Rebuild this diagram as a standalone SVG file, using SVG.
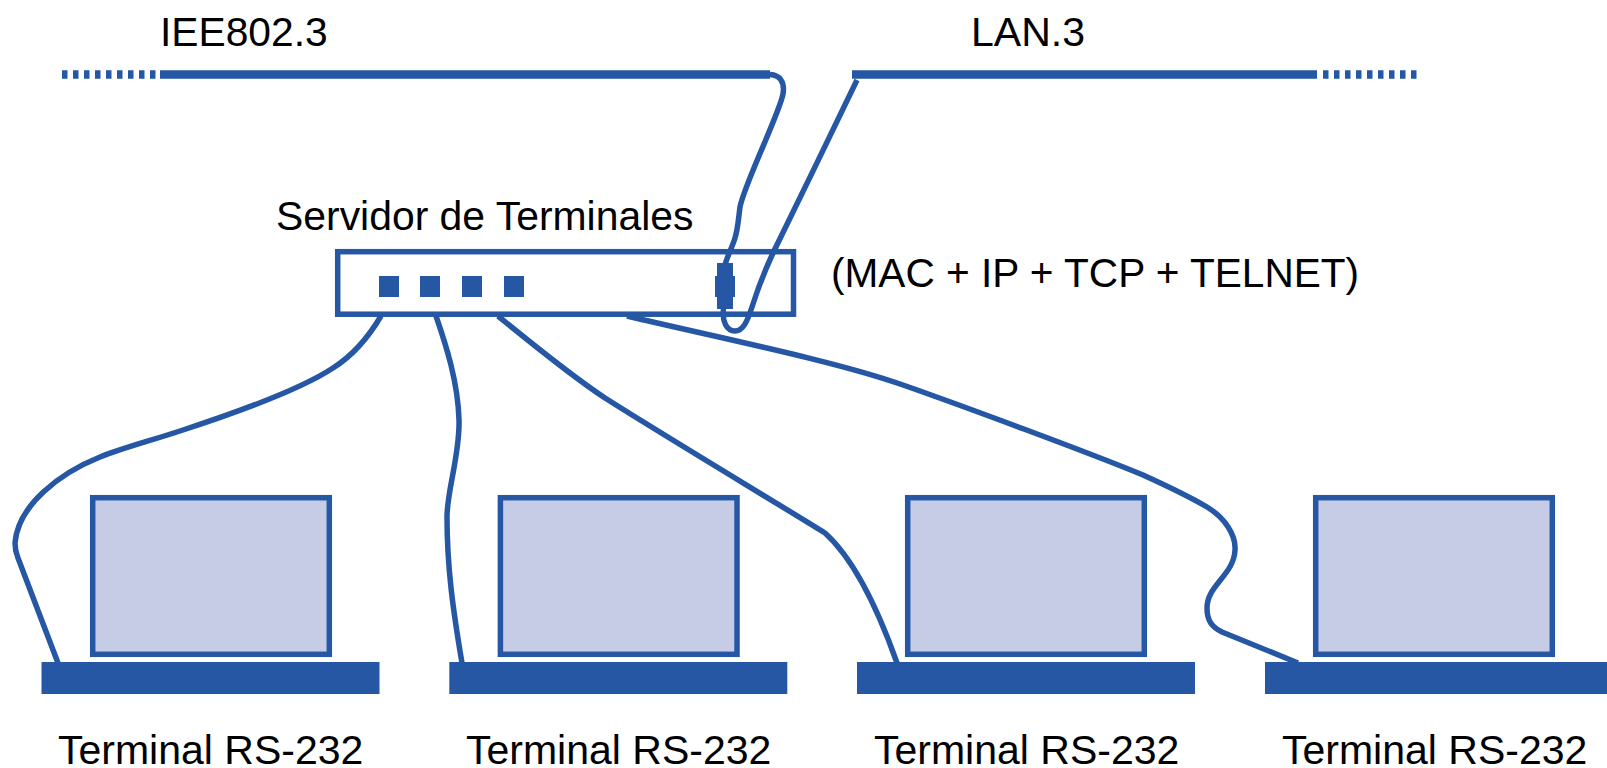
<svg xmlns="http://www.w3.org/2000/svg" width="1607" height="768" viewBox="0 0 1607 768">
<style>
text{font-family:"Liberation Sans",Arial,sans-serif;font-size:41px;fill:#000}
.c{fill:none;stroke:#2557a4;stroke-width:5.500;stroke-linecap:butt;stroke-linejoin:round}
.b{fill:none;stroke:#2557a4;stroke-width:8.500}
.d{stroke-dasharray:5.500 5.500}
.f{fill:#2557a4}
.s{fill:#c7cce6;stroke:#2557a4;stroke-width:5.500}
</style>
<rect width="1607" height="768" fill="#fff"/>
<g id="lan-left">
<path class="b d" d="M62 74.500H157"/>
<path class="b" d="M160 74.500H770"/>
<text x="160" y="46" style="font-size:40.750px">IEE802.3</text>
</g>
<g id="lan-right">
<path class="b" d="M852 74.500H1317"/>
<path class="b d" d="M1323 74.500H1417"/>
<text x="971" y="46">LAN.3</text>
</g>
<g id="connectors">
<path class="c" d="M770 74.500C780 75 785 82 783 94C780 112 744 185 740 207C738 222 738 228 735 238C732 248 728 254 725 265"/>
<path class="c" d="M724 305C721 322 727 331 735 331C743 331 747 322 752 307C758 288 766 268 773 253C790 218 838 120 857 80"/>
<path class="c" d="M381 316C368 338 352 356 333 368C298 391 235 413 183 430C150 441 125 447 100 457C60 473 18 505 15 543C15 549 16 553 18 558L58 663"/>
<path class="c" d="M436 316C446 345 458 382 459 420C460 455 447 490 447 517C447 567 453 610 462 663"/>
<path class="c" d="M498 316C530 342 570 375 605 398C660 433 780 505 825 533C855 560 880 615 897 663"/>
<path class="c" d="M627 316C720 338 835 361 903 385C960 405 1090 453 1143 475C1165 485 1190 497 1207 507C1225 518 1236 535 1235 550C1234 575 1207 585 1207 608C1207 621 1212 627 1222 632L1298 663"/>
</g>
<g id="server">
<rect x="337.700" y="251.700" width="455.800" height="62.500" fill="none" stroke="#2557a4" stroke-width="5.500"/>
<rect class="f" x="379" y="276" width="20" height="21"/>
<rect class="f" x="420" y="276" width="20" height="21"/>
<rect class="f" x="462" y="276" width="20" height="21"/>
<rect class="f" x="504" y="276" width="20" height="21"/>
<rect class="f" x="717" y="263" width="16" height="46"/>
<rect class="f" x="715" y="276" width="20" height="21"/>
<text x="276" y="230" style="font-size:40.900px">Servidor de Terminales</text>
<text x="831" y="287" style="font-size:40.600px">(MAC + IP + TCP + TELNET)</text>
</g>
<g id="terminal-1">
<rect class="s" x="92.700" y="497.700" width="236.600" height="156.600"/>
<rect class="f" x="41.500" y="662" width="338" height="32"/>
<text x="58" y="764">Terminal RS-232</text>
</g>
<g id="terminal-2">
<rect class="s" x="500.400" y="497.700" width="236.600" height="156.600"/>
<rect class="f" x="449.300" y="662" width="338" height="32"/>
<text x="466" y="764">Terminal RS-232</text>
</g>
<g id="terminal-3">
<rect class="s" x="907.700" y="497.700" width="236.600" height="156.600"/>
<rect class="f" x="857" y="662" width="338" height="32"/>
<text x="874" y="764">Terminal RS-232</text>
</g>
<g id="terminal-4">
<rect class="s" x="1315.700" y="497.700" width="236.600" height="156.600"/>
<rect class="f" x="1265" y="662" width="342" height="32"/>
<text x="1282" y="764">Terminal RS-232</text>
</g>
</svg>
